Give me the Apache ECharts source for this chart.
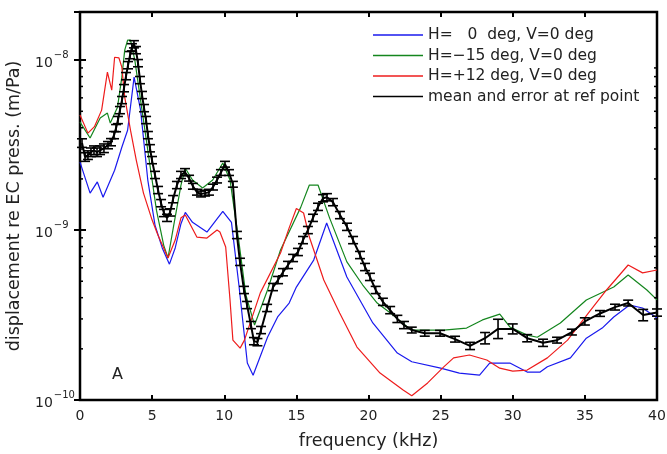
<!DOCTYPE html>
<html><head><meta charset="utf-8">
<script src="https://cdn.jsdelivr.net/npm/echarts@6/dist/echarts.min.js"></script>
<style>html,body{margin:0;padding:0;background:#fff}#c{width:667px;height:454px}</style>
</head><body><div id="c"></div>
<script>
const FONT = '"DejaVu Sans", "Liberation Sans", Arial, sans-serif';
const seriesNames = ['H=   0  deg, V=0 deg', 'H=\u221215 deg, V=0 deg', 'H=+12 deg, V=0 deg', 'mean and error at ref point'];
const xTicks = [0, 5, 10, 15, 20, 25, 30, 35, 40];
const yTicks = [1e-10, 1e-9, 1e-8];

const freqBlue = [0, 0.7, 1.2, 1.6, 2.4, 2.9, 3.3, 3.75, 4.2, 4.7, 5.2, 5.7, 6.2, 6.6, 7.0, 7.3, 7.8, 8.8, 9.9, 10.5, 11.0, 11.6, 12.0, 13.0, 13.7, 14.5, 15.0, 16.2, 17.1, 18.5, 20.3, 22, 23, 25, 26.3, 27.7, 28.4, 29.8, 31, 31.9, 32.4, 34, 35.1, 36.2, 37, 38.1, 39, 40];
const valBlue = [25.1e-10, 16.5e-10, 19.2e-10, 15.6e-10, 22.5e-10, 30.7e-10, 38.7e-10, 79.4e-10, 50.8e-10, 19.7e-10, 10.7e-10, 7.85e-10, 6.3e-10, 7.85e-10, 10.9e-10, 12.7e-10, 11.1e-10, 9.74e-10, 12.9e-10, 11.1e-10, 4.88e-10, 1.65e-10, 1.40e-10, 2.34e-10, 3.08e-10, 3.72e-10, 4.62e-10, 6.66e-10, 11.0e-10, 5.30e-10, 2.84e-10, 1.89e-10, 1.68e-10, 1.54e-10, 1.44e-10, 1.40e-10, 1.65e-10, 1.65e-10, 1.46e-10, 1.46e-10, 1.57e-10, 1.77e-10, 2.31e-10, 2.65e-10, 3.08e-10, 3.62e-10, 3.48e-10, 3.04e-10];

const freqGreen = [0, 0.7, 1.4, 1.9, 2.1, 2.6, 2.9, 3.1, 3.3, 3.5, 3.8, 4.3, 4.9, 5.3, 5.8, 6.1, 6.5, 7.0, 7.3, 7.8, 8.5, 9.2, 9.9, 10.4, 11.0, 11.5, 12.1, 13.0, 13.9, 15.3, 15.9, 16.5, 17.3, 18.5, 19.6, 20.6, 21.7, 22.7, 23.1, 25.2, 26.8, 27.9, 29.1, 29.8, 31, 31.7, 33.3, 35.1, 37, 38, 39.3, 40];
const valGreen = [43.2e-10, 34.8e-10, 45.6e-10, 48.8e-10, 42.6e-10, 52.9e-10, 79.4e-10, 114.5e-10, 131e-10, 131e-10, 100e-10, 50.8e-10, 22.5e-10, 13.1e-10, 8.16e-10, 6.85e-10, 10.7e-10, 18.4e-10, 23.1e-10, 19.7e-10, 17.7e-10, 19.7e-10, 24.8e-10, 19.7e-10, 8.73e-10, 4.15e-10, 2.76e-10, 4.44e-10, 7.63e-10, 13.6e-10, 18.4e-10, 18.4e-10, 11.8e-10, 6.5e-10, 4.75e-10, 3.72e-10, 3.16e-10, 2.69e-10, 2.58e-10, 2.58e-10, 2.65e-10, 2.96e-10, 3.2e-10, 2.69e-10, 2.41e-10, 2.34e-10, 2.84e-10, 3.88e-10, 4.62e-10, 5.44e-10, 4.44e-10, 3.88e-10];

const freqRed = [0, 0.55, 1.0, 1.5, 1.9, 2.2, 2.4, 2.7, 2.9, 3.1, 3.5, 3.9, 4.4, 5.0, 5.4, 5.8, 6.1, 6.6, 7.0, 7.3, 8.1, 8.8, 9.5, 9.7, 10.1, 10.4, 10.6, 11.1, 11.4, 12.5, 13.9, 14.5, 15.0, 15.5, 15.9, 16.9, 18.0, 19.2, 20.8, 22.4, 23.0, 24.1, 25.2, 25.9, 27.0, 28.2, 29.1, 30.0, 31.0, 32.4, 33.8, 35.4, 36.5, 38.0, 39.0, 40.0];
const valRed = [47.5e-10, 37.2e-10, 40.6e-10, 50.8e-10, 85.1e-10, 66.6e-10, 104e-10, 103e-10, 91e-10, 60.6e-10, 38.7e-10, 25.8e-10, 16.5e-10, 11.45e-10, 9.35e-10, 7.85e-10, 6.85e-10, 8.73e-10, 11.8e-10, 12.25e-10, 9.1e-10, 8.97e-10, 10.0e-10, 9.74e-10, 7.95e-10, 3.88e-10, 2.25e-10, 2.02e-10, 2.25e-10, 4.27e-10, 7.33e-10, 10.3e-10, 13.4e-10, 12.6e-10, 9.1e-10, 5.08e-10, 3.25e-10, 2.05e-10, 1.44e-10, 1.145e-10, 1.06e-10, 1.26e-10, 1.56e-10, 1.77e-10, 1.84e-10, 1.72e-10, 1.54e-10, 1.48e-10, 1.50e-10, 1.77e-10, 2.25e-10, 3.38e-10, 4.44e-10, 6.23e-10, 5.6e-10, 5.82e-10];

const freqMean = [0.14, 0.35, 0.55, 0.76, 0.97, 1.18, 1.39, 1.66, 1.94, 2.15, 2.36, 2.5, 2.63, 2.77, 2.91, 3.05, 3.19, 3.33, 3.47, 3.6, 3.74, 3.88, 4.02, 4.16, 4.3, 4.44, 4.58, 4.71, 4.85, 4.99, 5.2, 5.41, 5.62, 5.82, 6.03, 6.24, 6.45, 6.72, 7.0, 7.28, 7.56, 7.83, 8.11, 8.39, 8.67, 8.94, 9.22, 9.5, 9.77, 10.05, 10.33, 10.6, 10.88, 11.09, 11.37, 11.58, 11.85, 12.06, 12.3, 12.55, 12.97, 13.38, 13.73, 14.07, 14.42, 14.77, 15.11, 15.46, 15.8, 16.15, 16.5, 16.85, 17.12, 17.54, 18.02, 18.51, 18.93, 19.41, 19.76, 20.1, 20.5, 21.0, 21.5, 22.0, 22.46, 23.0, 23.9, 24.96, 26.0, 27.04, 28.08, 28.98, 30.0, 31.0, 32.1, 33.07, 34.1, 35.0, 36.05, 37.09, 38.0, 39.04, 40.0];
const valMean = [32.5e-10, 26.9e-10, 27.6e-10, 28.7e-10, 29.5e-10, 28.7e-10, 29.5e-10, 30.3e-10, 31.6e-10, 32.9e-10, 36.2e-10, 39.8e-10, 44.4e-10, 50.8e-10, 58.2e-10, 68.4e-10, 80.5e-10, 93.4e-10, 107e-10, 119e-10, 124e-10, 114.5e-10, 96e-10, 76.3e-10, 62.3e-10, 52.2e-10, 44.4e-10, 36.2e-10, 30.3e-10, 25.8e-10, 21.1e-10, 17.2e-10, 14.4e-10, 12.6e-10, 11.8e-10, 12.7e-10, 15.2e-10, 18.4e-10, 21.1e-10, 21.9e-10, 20.2e-10, 18.1e-10, 16.7e-10, 16.3e-10, 16.5e-10, 16.7e-10, 17.9e-10, 19.7e-10, 21.8e-10, 24.4e-10, 21.8e-10, 18.6e-10, 9.35e-10, 6.5e-10, 4.44e-10, 3.62e-10, 2.76e-10, 2.22e-10, 2.19e-10, 2.58e-10, 3.48e-10, 4.62e-10, 5.08e-10, 5.65e-10, 6.23e-10, 6.85e-10, 7.43e-10, 8.73e-10, 10.0e-10, 11.8e-10, 13.7e-10, 15.4e-10, 15.6e-10, 14.6e-10, 12.25e-10, 10.45e-10, 8.73e-10, 7.13e-10, 6.06e-10, 5.30e-10, 4.44e-10, 3.78e-10, 3.38e-10, 3.0e-10, 2.76e-10, 2.58e-10, 2.47e-10, 2.47e-10, 2.28e-10, 2.08e-10, 2.31e-10, 2.62e-10, 2.62e-10, 2.31e-10, 2.17e-10, 2.25e-10, 2.51e-10, 2.9e-10, 3.23e-10, 3.52e-10, 3.72e-10, 3.16e-10, 3.27e-10];
// relative half-size of each error bar
const errMean = [0.06, 0.06, 0.06, 0.06, 0.06, 0.06, 0.06, 0.06, 0.05, 0.05, 0.05, 0.05, 0.05, 0.05, 0.05, 0.05, 0.05, 0.05, 0.05, 0.05, 0.05, 0.05, 0.05, 0.05, 0.05, 0.05, 0.05, 0.05, 0.05, 0.05, 0.05, 0.05, 0.05, 0.05, 0.05, 0.05, 0.05, 0.05, 0.05, 0.05, 0.04, 0.04, 0.04, 0.04, 0.04, 0.04, 0.04, 0.04, 0.04, 0.04, 0.04, 0.04, 0.05, 0.05, 0.05, 0.05, 0.05, 0.05, 0.05, 0.05, 0.05, 0.05, 0.05, 0.05, 0.05, 0.05, 0.05, 0.05, 0.05, 0.05, 0.05, 0.05, 0.05, 0.05, 0.05, 0.05, 0.05, 0.05, 0.05, 0.05, 0.05, 0.05, 0.05, 0.05, 0.05, 0.04, 0.04, 0.04, 0.04, 0.05, 0.08, 0.14, 0.07, 0.05, 0.05, 0.04, 0.04, 0.05, 0.04, 0.04, 0.04, 0.08, 0.05];

const minorMultipliers = [2, 3, 4, 5, 6, 7, 8, 9];
const minorDecades = [1e-10, 1e-9, 1e-8];
const Y_MIN = 1e-10, Y_MAX = 1.92e-8;

const zip = (a, b) => a.map((v, i) => [v, b[i]]);
const minorVals = [];
minorDecades.forEach(d => minorMultipliers.forEach(m => { if (m * d < Y_MAX) minorVals.push(m * d); }));

const chart = echarts.init(document.getElementById('c'), null, {renderer: 'canvas'});
const textCol = '#222';
const option = {
  animation: false,
  backgroundColor: '#fff',
  grid: {left: 80, right: 10, top: 12, bottom: 54, show: true, borderColor: '#000', borderWidth: 2.5, backgroundColor: 'transparent', containLabel: false, outerBoundsMode: 'none'},
  legend: {
    orient: 'vertical', left: 373, top: 27, padding: 0, itemWidth: 50, itemHeight: 1.5, itemGap: 4.5,
    icon: 'rect', selectedMode: false,
    textStyle: {fontFamily: FONT, fontSize: 15.5, color: textCol},
    data: seriesNames
  },
  title: {text: 'A', left: 112, top: 367, padding: 0, textStyle: {fontFamily: FONT, fontSize: 16, fontWeight: 'normal', color: textCol}},
  xAxis: [{
    type: 'value', min: xTicks[0], max: xTicks[xTicks.length - 1], interval: 5,
    name: 'frequency (kHz)', nameLocation: 'middle', nameGap: 32,
    nameTextStyle: {fontFamily: FONT, fontSize: 17.5, color: textCol},
    axisLine: {show: false}, splitLine: {show: false},
    axisTick: {show: true, inside: true, length: 5, lineStyle: {color: '#000', width: 2}},
    axisLabel: {fontFamily: FONT, fontSize: 14, color: textCol, margin: 9, showMaxLabel: true, showMinLabel: true}
  }, {
    type: 'value', position: 'top', min: xTicks[0], max: xTicks[xTicks.length - 1], interval: 5,
    axisLine: {show: false}, splitLine: {show: false}, axisLabel: {show: false},
    axisTick: {show: true, inside: true, length: 5, lineStyle: {color: '#000', width: 2}}
  }],
  yAxis: [{
    type: 'log', logBase: 10, min: Y_MIN, max: Y_MAX,
    name: 'displacement re EC press. (m/Pa)', nameLocation: 'middle', nameGap: 57, nameMoveOverlap: false,
    nameTextStyle: {fontFamily: FONT, fontSize: 17.5, color: textCol},
    axisLine: {show: false}, splitLine: {show: false},
    axisTick: {show: true, inside: true, length: 6, lineStyle: {color: '#000', width: 2}},
    axisLabel: {
      margin: 45, align: 'left', fontFamily: FONT,
      formatter: function (v) {
        const e = Math.round(Math.log10(v));
        if (Math.abs(v / Math.pow(10, e) - 1) > 1e-3) return '';
        return '{b|10}{s|' + (e < 0 ? '\u2212' : '') + Math.abs(e) + '}';
      },
      rich: {
        b: {fontFamily: FONT, fontSize: 14, color: textCol, verticalAlign: 'bottom'},
        s: {fontFamily: FONT, fontSize: 10, color: textCol, verticalAlign: 'bottom', padding: [0, 0, 10, 1]}
      }
    }
  }, {
    type: 'log', logBase: 10, min: Y_MIN, max: Y_MAX, position: 'right',
    axisLine: {show: false}, splitLine: {show: false}, axisLabel: {show: false},
    axisTick: {show: true, inside: true, length: 6, lineStyle: {color: '#000', width: 2}}
  }],
  series: [
    {name: seriesNames[0], type: 'line', data: zip(freqBlue, valBlue), showSymbol: false, symbol: 'none', color: '#1a1aee', lineStyle: {width: 1.2}, z: 2},
    {name: seriesNames[1], type: 'line', data: zip(freqGreen, valGreen), showSymbol: false, symbol: 'none', color: '#14861e', lineStyle: {width: 1.2}, z: 2},
    {name: seriesNames[2], type: 'line', data: zip(freqRed, valRed), showSymbol: false, symbol: 'none', color: '#ee1c1c', lineStyle: {width: 1.2}, z: 2},
    {name: seriesNames[3], type: 'line', data: zip(freqMean, valMean), showSymbol: false, symbol: 'none', color: '#000', lineStyle: {width: 2}, z: 4},
    {
      name: 'errorbars', type: 'custom', z: 5, silent: true,
      data: freqMean.map((f, i) => [f, valMean[i], errMean[i]]),
      encode: {x: 0, y: 1},
      renderItem: function (params, api) {
        const x = api.value(0), y = api.value(1), e = api.value(2);
        const hi = api.coord([x, y * (1 + e)]);
        const lo = api.coord([x, y / (1 + e)]);
        const hw = 5;
        const st = {stroke: '#000', lineWidth: 1.6};
        return {type: 'group', children: [
          {type: 'line', shape: {x1: hi[0], y1: hi[1], x2: lo[0], y2: lo[1]}, style: st},
          {type: 'line', shape: {x1: hi[0] - hw, y1: hi[1], x2: hi[0] + hw, y2: hi[1]}, style: st},
          {type: 'line', shape: {x1: lo[0] - hw, y1: lo[1], x2: lo[0] + hw, y2: lo[1]}, style: st}
        ]};
      }
    },
    {
      name: 'minorticks', type: 'custom', z: 6, silent: true,
      data: minorVals.map(v => [0, v]),
      encode: {y: 1},
      renderItem: function (params, api) {
        const v = api.value(1);
        const l = api.coord([xTicks[0], v]);
        const r = api.coord([xTicks[xTicks.length - 1], v]);
        const st = {stroke: '#000', lineWidth: 1.5};
        return {type: 'group', children: [
          {type: 'line', shape: {x1: l[0], y1: l[1], x2: l[0] + 3, y2: l[1]}, style: st},
          {type: 'line', shape: {x1: r[0], y1: r[1], x2: r[0] - 3, y2: r[1]}, style: st}
        ]};
      }
    }
  ]
};
chart.setOption(option);
</script>
</body></html>
